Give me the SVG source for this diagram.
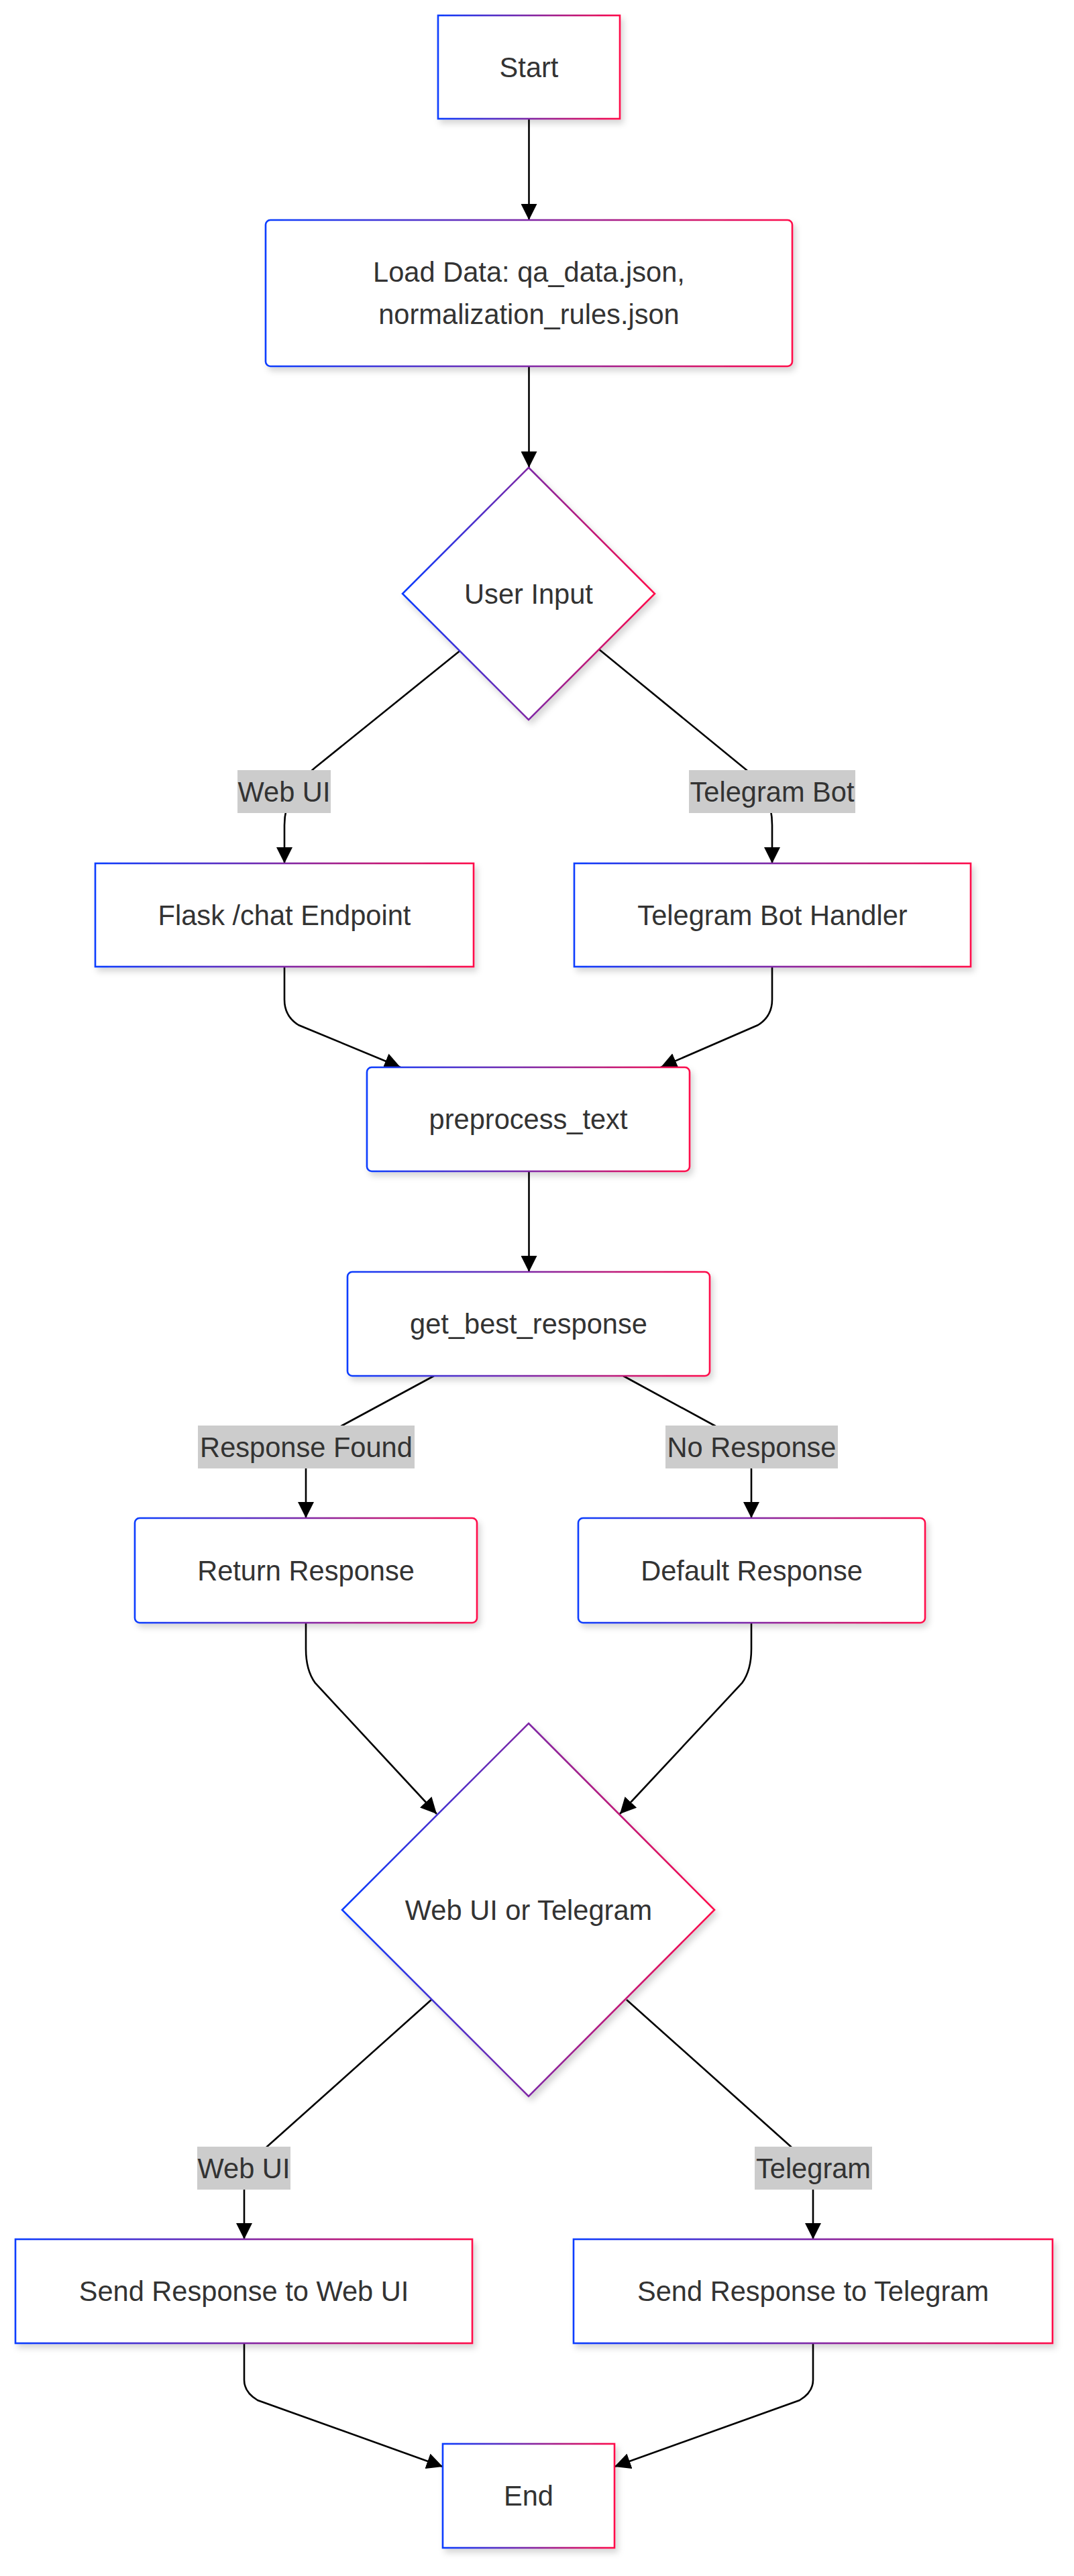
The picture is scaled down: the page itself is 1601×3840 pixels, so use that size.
<svg xmlns="http://www.w3.org/2000/svg" width="1601" height="3840" viewBox="0 0 1601 3840">
<defs>
<linearGradient id="g" x1="0" y1="0" x2="1" y2="0">
<stop offset="0" stop-color="#0a3cff"/>
<stop offset="0.5" stop-color="#7f28a6"/>
<stop offset="1" stop-color="#ff0a4a"/>
</linearGradient>
<filter id="sh" x="-10%" y="-10%" width="125%" height="130%">
<feDropShadow dx="4" dy="6" stdDeviation="5" flood-color="#000" flood-opacity="0.16"/>
</filter>
<marker id="arr" viewBox="0 0 10 10" refX="10" refY="5" markerWidth="24" markerHeight="24" markerUnits="userSpaceOnUse" orient="auto">
<path d="M0,0 L10,5 L0,10 z" fill="#000"/>
</marker>
<style>
.n{fill:#fff;stroke:url(#g);stroke-width:2.6;filter:url(#sh)}
.t{font-family:"Liberation Sans",Arial,sans-serif;font-size:41.6px;fill:#333;text-anchor:middle}
.e{fill:none;stroke:#000;stroke-width:2.6;marker-end:url(#arr)}
.lb{fill:#cccccc}
</style>
</defs>
<rect width="1601" height="3840" fill="#fff"/>
<g id="connectors">
<path class="e" d="M788.5 177 L788.5 328"/>
<path class="e" d="M788.5 546 L788.5 697"/>
<path class="e" d="M687 969 L470 1144 Q424 1181 424 1230 L424 1287"/>
<path class="e" d="M893 968 L1113 1148 Q1151 1180 1151 1230 L1151 1287"/>
<path class="e" d="M424 1441 L424 1490 Q424 1515 445 1528 L597 1591"/>
<path class="e" d="M1151 1441 L1151 1490 Q1151 1515 1130 1528 L985 1591"/>
<path class="e" d="M788.5 1746 L788.5 1896"/>
<path class="e" d="M647 2051 L510 2125 Q456 2155 456 2190 L456 2263"/>
<path class="e" d="M929 2051 L1065 2125 Q1120 2155 1120 2190 L1120 2263"/>
<path class="e" d="M456 2419 L456 2458 Q456 2490 470 2509 L651 2704"/>
<path class="e" d="M1120 2419 L1120 2458 Q1120 2490 1106 2509 L924 2704"/>
<path class="e" d="M643 2981 L398 3200 Q364 3232 364 3265 L364 3338"/>
<path class="e" d="M934 2981 L1179 3200 Q1212 3232 1212 3265 L1212 3338"/>
<path class="e" d="M364 3493 L364 3548 Q364 3566 384 3578 L660 3677"/>
<path class="e" d="M1212 3493 L1212 3548 Q1212 3566 1192 3578 L916 3677"/>
<g id="edge-labels">
<rect class="lb" x="354" y="1148" width="139" height="64"/>
<text class="t" x="423.5" y="1194.5">Web UI</text>
<rect class="lb" x="1027" y="1148" width="248" height="64"/>
<text class="t" x="1151" y="1194.5">Telegram Bot</text>
<rect class="lb" x="295" y="2125" width="323" height="64"/>
<text class="t" x="456.5" y="2171.5">Response Found</text>
<rect class="lb" x="992" y="2125" width="257" height="64"/>
<text class="t" x="1120.5" y="2171.5">No Response</text>
<rect class="lb" x="294" y="3200" width="139" height="64"/>
<text class="t" x="363.5" y="3246.5">Web UI</text>
<rect class="lb" x="1125" y="3200" width="175" height="64"/>
<text class="t" x="1212.5" y="3246.5">Telegram</text>
</g>
</g>
<g id="start">
<rect class="n" x="653" y="23" width="271" height="154"/>
<text class="t" x="788.5" y="114.5">Start</text>
</g>
<g id="load">
<rect class="n" x="396" y="328" width="785" height="218" rx="7"/>
<text class="t" x="788.5" y="420">Load Data: qa_data.json,</text>
<text class="t" x="788.5" y="483">normalization_rules.json</text>
</g>
<g id="userinput">
<polygon class="n" points="788,697 976,885 788,1073 600,885"/>
<text class="t" x="788" y="899.5">User Input</text>
</g>
<g id="flask">
<rect class="n" x="142" y="1287" width="564" height="154"/>
<text class="t" x="424" y="1378.5">Flask /chat Endpoint</text>
</g>
<g id="tghandler">
<rect class="n" x="856" y="1287" width="591" height="154"/>
<text class="t" x="1151.5" y="1378.5">Telegram Bot Handler</text>
</g>
<g id="preprocess">
<rect class="n" x="547" y="1591" width="481" height="155" rx="7"/>
<text class="t" x="787.5" y="1683">preprocess_text</text>
</g>
<g id="getbest">
<rect class="n" x="518" y="1896" width="540" height="155" rx="7"/>
<text class="t" x="788" y="1988">get_best_response</text>
</g>
<g id="return">
<rect class="n" x="201" y="2263" width="510" height="156" rx="7"/>
<text class="t" x="456" y="2355.5">Return Response</text>
</g>
<g id="default">
<rect class="n" x="862" y="2263" width="517" height="156" rx="7"/>
<text class="t" x="1120.5" y="2355.5">Default Response</text>
</g>
<g id="channel">
<polygon class="n" points="788,2569 1065,2847 788,3125 510,2847"/>
<text class="t" x="788" y="2861.5">Web UI or Telegram</text>
</g>
<g id="sendweb">
<rect class="n" x="23" y="3338" width="681" height="155"/>
<text class="t" x="363.5" y="3430">Send Response to Web UI</text>
</g>
<g id="sendtg">
<rect class="n" x="855" y="3338" width="714" height="155"/>
<text class="t" x="1212" y="3430">Send Response to Telegram</text>
</g>
<g id="end">
<rect class="n" x="660" y="3643" width="256" height="155"/>
<text class="t" x="788" y="3735">End</text>
</g>
</svg>
